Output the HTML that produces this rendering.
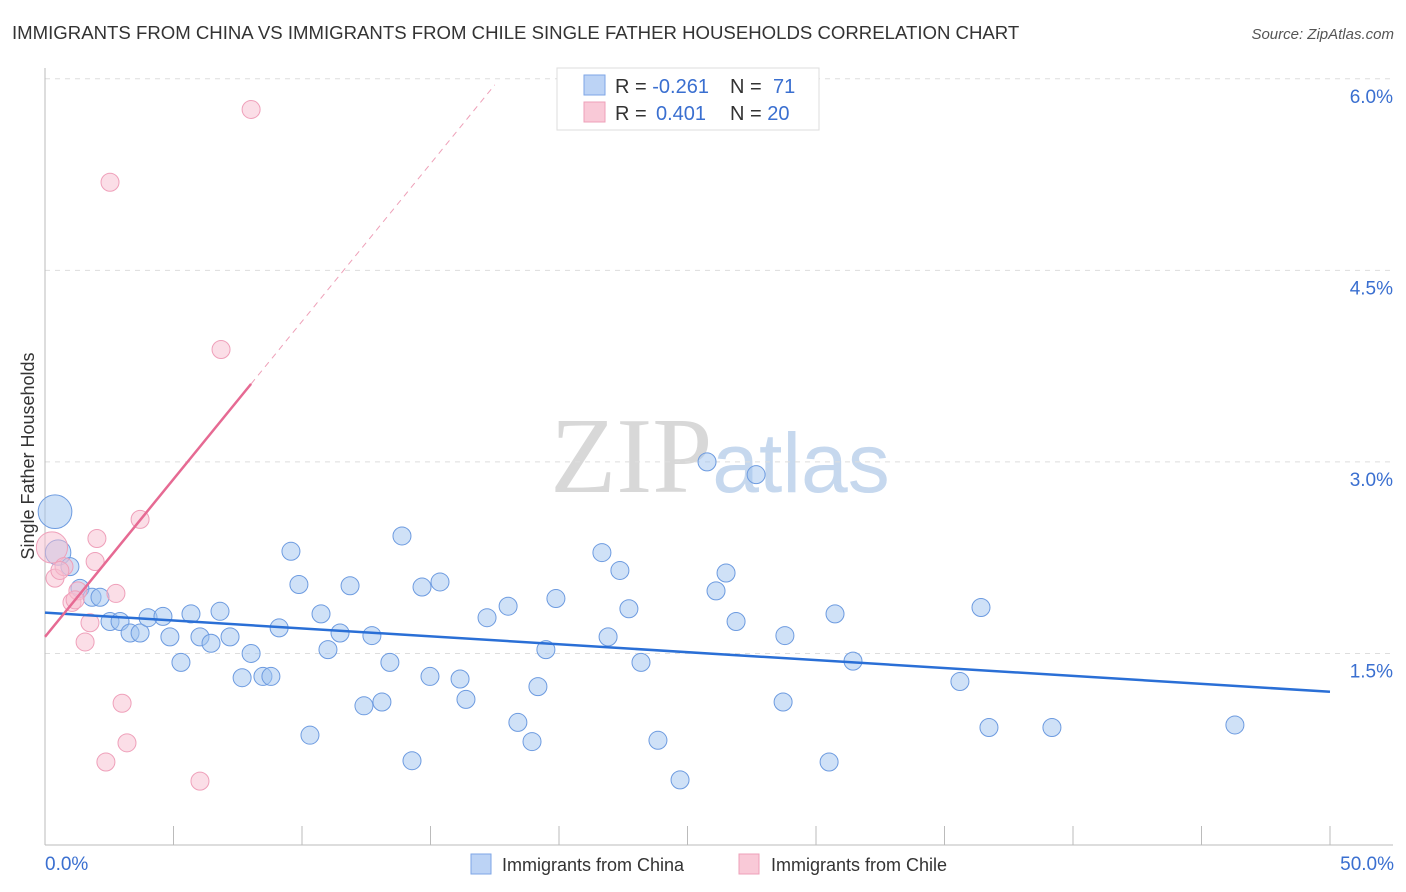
<!DOCTYPE html>
<html><head><meta charset="utf-8"><style>
body{margin:0;background:#fff;font-family:"Liberation Sans",sans-serif;}
svg{display:block}
</style></head><body>
<svg id="chart" width="1406" height="892" xmlns="http://www.w3.org/2000/svg" font-family="Liberation Sans, sans-serif">
<text x="12" y="39" font-size="18.6" fill="#333">IMMIGRANTS FROM CHINA VS IMMIGRANTS FROM CHILE SINGLE FATHER HOUSEHOLDS CORRELATION CHART</text>
<text x="1394" y="39" font-size="15" fill="#555" text-anchor="end" font-style="italic">Source: ZipAtlas.com</text>
<text x="720" y="492" font-size="108" text-anchor="middle"><tspan fill="#d8d8d8" font-family="Liberation Serif, serif">ZIP</tspan><tspan fill="#c6d8ee" font-size="84">atlas</tspan></text>
<g id="grid"></g>
<g id="axes"></g>
<g id="pts"></g>
<g id="trends"></g>
<text transform="translate(34,456) rotate(-90)" font-size="18" fill="#333" text-anchor="middle">Single Father Households</text>
<text x="45" y="870" font-size="19" fill="#3a6fd0">0.0%</text>
<text x="1394" y="870" font-size="19" fill="#3a6fd0" text-anchor="end">50.0%</text>
<g>
<rect x="557" y="68" width="262" height="62" fill="#fff" stroke="#ddd"/>
<rect x="584" y="75" width="21" height="20" fill="#bcd3f5" stroke="#7ea6e6"/>
<rect x="584" y="102" width="21" height="20" fill="#f9c9d7" stroke="#eea0b8"/>
<text x="615" y="93" font-size="20" fill="#333">R = <tspan fill="#3a6fd0">-0.261</tspan><tspan x="730">N = </tspan><tspan fill="#3a6fd0" x="773">71</tspan></text>
<text x="615" y="120" font-size="20" fill="#333">R = <tspan fill="#3a6fd0" x="656">0.401</tspan><tspan x="730">N = </tspan><tspan fill="#3a6fd0">20</tspan></text>
</g>
<g>
<rect x="471" y="854" width="20" height="20" fill="#bcd3f5" stroke="#7ea6e6"/>
<text x="502" y="871" font-size="18" fill="#333">Immigrants from China</text>
<rect x="739" y="854" width="20" height="20" fill="#f9c9d7" stroke="#eea0b8"/>
<text x="771" y="871" font-size="18" fill="#333">Immigrants from Chile</text>
</g>
</svg>
<script>
const yTicks=[1.5,3.0,4.5,6.0];
const yTickLabels=["1.5%","3.0%","4.5%","6.0%"];
const chinaX=[0.39,0.51,0.97,1.36,1.83,2.14,2.53,2.92,3.31,3.70,4.01,4.59,4.86,5.29,5.68,6.03,6.46,6.81,7.20,7.67,8.02,8.48,8.79,9.11,9.57,9.88,10.31,10.74,11.01,11.48,11.87,12.41,12.72,13.11,13.42,13.89,14.28,14.67,14.98,15.37,16.15,16.38,17.20,18.02,18.40,18.95,19.18,19.49,19.88,21.67,21.91,22.37,22.72,23.19,23.85,24.71,25.76,26.11,26.50,26.89,27.67,28.72,28.79,30.51,30.74,31.44,35.60,36.42,36.73,39.18,46.30];
const chinaY=[2.61,2.29,2.18,2.01,1.94,1.94,1.75,1.75,1.66,1.66,1.78,1.79,1.63,1.43,1.81,1.63,1.58,1.83,1.63,1.31,1.50,1.32,1.32,1.70,2.30,2.04,0.86,1.81,1.53,1.66,2.03,1.09,1.64,1.12,1.43,2.42,0.66,2.02,1.32,2.06,1.30,1.14,1.78,1.87,0.96,0.81,1.24,1.53,1.93,2.29,1.63,2.15,1.85,1.43,0.82,0.51,3.00,1.99,2.13,1.75,2.90,1.12,1.64,0.65,1.81,1.44,1.28,1.86,0.92,0.92,0.94];
const chinaW=[3.5,2,1,1,1,1,1,1,1,1,1,1,1,1,1,1,1,1,1,1,1,1,1,1,1,1,1,1,1,1,1,1,1,1,1,1,1,1,1,1,1,1,1,1,1,1,1,1,1,1,1,1,1,1,1,1,1,1,1,1,1,1,1,1,1,1,1,1,1,1,1];
const chileX=[0.27,0.39,0.74,1.05,1.28,1.56,1.75,2.02,1.95,2.76,3.00,3.19,2.37,3.70,2.53,6.03,6.85,8.02,0.58,1.17];
const chileY=[2.33,2.09,2.18,1.90,1.99,1.59,1.74,2.40,2.22,1.97,1.11,0.80,0.65,2.55,5.19,0.50,3.88,5.76,2.15,1.92];
const chileW=[3,1,1,1,1,1,1,1,1,1,1,1,1,1,1,1,1,1,1,1];
const chinaTrend=[1.82,1.20];
const chileTrend=[1.63,0.247];
const xMax=50, chileSolidEnd=8.02, chileDashEnd=17.5;
const X=v=>45+v/xMax*1285;
const Y=v=>845-v*127.7;
const NS="http://www.w3.org/2000/svg";
function mk(tag,parent,attrs){const e=document.createElementNS(NS,tag);for(const k in attrs)e.setAttribute(k,attrs[k]);document.getElementById(parent).appendChild(e);return e;}
yTicks.forEach((t,i)=>{
 const g=mk('line','grid',{x1:45,x2:1393,y1:Y(t),y2:Y(t),stroke:'#ddd','stroke-dasharray':'5,5'});
 
 
 const l=mk('text','grid',{x:1393,y:Y(t)+24,'font-size':19,fill:'#3a6fd0','text-anchor':'end'});
 l.textContent=yTickLabels[i];
 
 
});
const ax=mk('line','axes',{x1:45,x2:1393,y1:845,y2:845,stroke:'#bbb'});


const ay=mk('line','axes',{x1:45,x2:45,y1:68,y2:845,stroke:'#bbb'});


for(let k=0;k<=10;k++){
 const t=mk('line','axes',{x1:X(k*5),x2:X(k*5),y1:826,y2:845,stroke:'#bbb'});
 
 
}
chinaX.forEach((v,i)=>{
 const c=mk('circle','pts',{cx:X(v),cy:Y(chinaY[i]),r:9*Math.sqrt(chinaW[i]),fill:'rgba(160,195,240,0.5)',stroke:'#6d9be0','stroke-width':1});
 
 
});
chileX.forEach((v,i)=>{
 const c=mk('circle','pts',{cx:X(v),cy:Y(chileY[i]),r:9*Math.sqrt(chileW[i]),fill:'rgba(248,190,208,0.5)',stroke:'#efa0ba','stroke-width':1});
 
 
});
const bt=mk('line','trends',{x1:X(0),y1:Y(chinaTrend[0]),x2:X(xMax),y2:Y(chinaTrend[1]),stroke:'#2a6fd6','stroke-width':2.5});


const pt=mk('line','trends',{x1:X(0),y1:Y(chileTrend[0]),x2:X(chileSolidEnd),y2:Y(chileTrend[0]+chileTrend[1]*chileSolidEnd),stroke:'#e66a93','stroke-width':2.5});


const pd=mk('line','trends',{x1:X(chileSolidEnd),y1:Y(chileTrend[0]+chileTrend[1]*chileSolidEnd),x2:X(chileDashEnd),y2:Y(chileTrend[0]+chileTrend[1]*chileDashEnd),stroke:'#eea0b8','stroke-width':1,'stroke-dasharray':'6,5'});


</script>
</body></html>
